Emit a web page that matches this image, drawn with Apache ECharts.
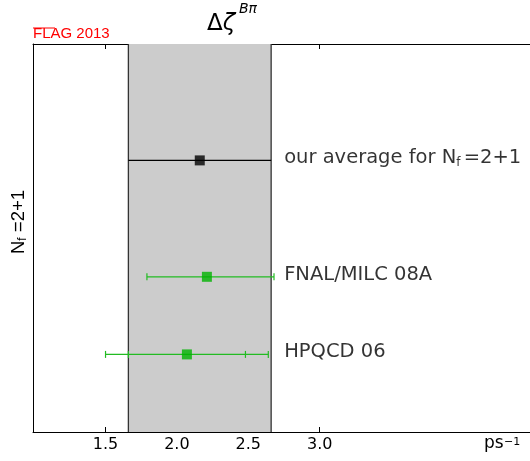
<!DOCTYPE html>
<html>
<head>
<meta charset="utf-8">
<script src="https://cdn.jsdelivr.net/npm/echarts@6/dist/echarts.min.js"></script>
<style>
html,body{margin:0;padding:0;background:#fff;}
#chart{width:530px;height:461px;}
</style>
</head>
<body>
<div id="chart"></div>
<script>
// ---- data ----
const labels = ['our average for N_f =2+1', 'FNAL/MILC 08A', 'HPQCD 06'];
const rows = [3.5, 2, 1];
const centers = [2.16, 2.21, 2.07];
const lows = [1.66, 1.79, 1.50];
const highs = [2.66, 2.68, 2.64];
const statLows = [null, null, 1.66];
const statHighs = [null, null, 2.48];
const kinds = ['average', 'lattice', 'lattice'];
const tickValues = [1.5, 2.0, 2.5, 3.0];
const xRange = [0.992, 4.473];
const yRange = [0, 5];

const colorOf = { average: '#000000', lattice: '#00b300' };
const barColorOf = { average: '#000000', lattice: '#22bb22' };

const chart = echarts.init(document.getElementById('chart'), null, { renderer: 'canvas' });

const errData = rows.map((r, i) => [lows[i], highs[i], r, statLows[i], statHighs[i], kinds[i]]);
const ptData = rows.map((r, i) => ({ value: [centers[i], r], itemStyle: { color: colorOf[kinds[i]] } }));
const lblData = rows.map((r, i) => ({ value: [highs[0], r], name: labels[i] }));

function labelFmt(p) {
  const t = p.name;
  const k = t.indexOf('N_f ');
  if (k < 0) return t;
  return t.slice(0, k) + 'N{sub|f}{sp| }' + t.slice(k + 4);
}

const axisLineStyle = { color: '#000', width: 1 };
const option = {
  animation: false,
  backgroundColor: '#fff',
  grid: { left: 33, right: 0, top: 44, bottom: 29 },
  xAxis: [
    {
      type: 'value', min: xRange[0], max: xRange[1], position: 'bottom',
      axisLine: { show: true, onZero: false, lineStyle: axisLineStyle },
      axisTick: { show: true, inside: true, length: 5, customValues: tickValues, lineStyle: { color: '#000' } },
      axisLabel: { show: true, customValues: tickValues, margin: 5, fontFamily: 'DejaVu Sans', fontSize: 16, color: '#000',
        formatter: v => v.toFixed(1) },
      splitLine: { show: false }
    },
    {
      type: 'value', min: xRange[0], max: xRange[1], position: 'top',
      axisLine: { show: true, onZero: false, lineStyle: axisLineStyle },
      axisTick: { show: true, inside: true, length: 5, customValues: tickValues, lineStyle: { color: '#000' } },
      axisLabel: { show: false },
      splitLine: { show: false }
    }
  ],
  yAxis: {
    type: 'value', min: yRange[0], max: yRange[1],
    axisLine: { show: true, onZero: false, lineStyle: axisLineStyle },
    axisTick: { show: false }, axisLabel: { show: false }, splitLine: { show: false }
  },
  series: [
    {
      type: 'custom', name: 'band', z: 1,
      data: [[lows[0], highs[0]]],
      renderItem: function (params, api) {
        const cs = params.coordSys;
        const a = api.coord([api.value(0), yRange[0]]);
        const b = api.coord([api.value(1), yRange[0]]);
        return {
          type: 'group',
          children: [
            { type: 'rect', shape: { x: a[0], y: cs.y, width: b[0] - a[0], height: cs.height }, style: { fill: '#cccccc' } },
            { type: 'line', shape: { x1: a[0], y1: cs.y, x2: a[0], y2: cs.y + cs.height }, style: { stroke: '#333', lineWidth: 1.3 } },
            { type: 'line', shape: { x1: b[0], y1: cs.y, x2: b[0], y2: cs.y + cs.height }, style: { stroke: '#333', lineWidth: 1.3 } }
          ]
        };
      }
    },
    {
      type: 'custom', name: 'errors', z: 3,
      data: errData,
      encode: { x: [0, 1], y: 2 },
      renderItem: function (params, api) {
        const kind = errData[params.dataIndex][5];
        const col = barColorOf[kind];
        const lo = api.coord([api.value(0), api.value(2)]);
        const hi = api.coord([api.value(1), api.value(2)]);
        const y = lo[1];
        const ch = [{ type: 'line', shape: { x1: lo[0], y1: y, x2: hi[0], y2: y }, style: { stroke: col, lineWidth: 1.2 } }];
        if (kind !== 'average') {
          [lo[0], hi[0]].forEach(x => ch.push({ type: 'line', shape: { x1: x, y1: y - 3.5, x2: x, y2: y + 3.5 }, style: { stroke: col, lineWidth: 1.2 } }));
          const s0 = errData[params.dataIndex][3], s1 = errData[params.dataIndex][4];
          if (s0 != null) {
            [s0, s1].forEach(v => {
              const x = api.coord([v, api.value(2)])[0];
              ch.push({ type: 'line', shape: { x1: x, y1: y - 3.5, x2: x, y2: y + 3.5 }, style: { stroke: col, lineWidth: 1.2 } });
            });
          }
        }
        return { type: 'group', children: ch };
      }
    },
    {
      type: 'scatter', name: 'points', z: 4,
      symbol: 'rect', symbolSize: 10,
      data: ptData
    },
    {
      type: 'scatter', name: 'labels', z: 5,
      symbolSize: 0, silent: true,
      data: lblData,
      label: {
        show: true, position: 'right', distance: 13, offset: [0, -2],
        formatter: labelFmt,
        fontFamily: 'DejaVu Sans', fontSize: 19.5, color: '#000', textBorderWidth: 0,
        rich: {
          sub: { fontFamily: 'DejaVu Sans', fontSize: 12, color: '#000', verticalAlign: 'bottom', lineHeight: 12 },
          sp: { fontFamily: 'DejaVu Sans', fontSize: 10, color: '#000' }
        }
      }
    }
  ],
  graphic: [
    {
      type: 'text', left: 207, top: 13,
      style: {
        text: '{d|Δ}{z|ζ}',
        rich: {
          d: { fontFamily: 'DejaVu Sans', fontSize: 23, fill: '#000' },
          z: { fontFamily: 'DejaVu Sans', fontStyle: 'italic', fontSize: 23, fill: '#000' }
        }
      }
    },
    {
      type: 'text', left: 239, top: 2,
      style: { text: 'Bπ', fontFamily: 'DejaVu Sans', fontStyle: 'italic', fontSize: 14, fill: '#000' }
    },
    {
      type: 'text', left: 33, top: 26,
      style: { text: 'FLAG 2013', fontFamily: 'Liberation Sans', fontSize: 15, fill: '#ff0000' }
    },
    {
      type: 'line', shape: { x1: 33, y1: 28, x2: 55, y2: 28 }, style: { stroke: '#ff0000', lineWidth: 1 }
    },
    {
      type: 'text', x: 19, y: 222, rotation: Math.PI / 2,
      style: {
        text: 'N{s|f} =2+1', align: 'center', verticalAlign: 'middle',
        fontFamily: 'Liberation Sans', fontSize: 18.5, fill: '#000',
        rich: { s: { fontFamily: 'Liberation Sans', fontSize: 12, fill: '#000', verticalAlign: 'bottom', lineHeight: 12 } }
      }
    },
    {
      type: 'text', left: 484, top: 435,
      style: { text: 'ps', fontFamily: 'DejaVu Sans', fontSize: 17, fill: '#000' }
    },
    {
      type: 'text', left: 504, top: 437,
      style: { text: '−1', fontFamily: 'DejaVu Sans', fontSize: 11, fill: '#000' }
    }
  ]
};
chart.setOption(option);
</script>
</body>
</html>
